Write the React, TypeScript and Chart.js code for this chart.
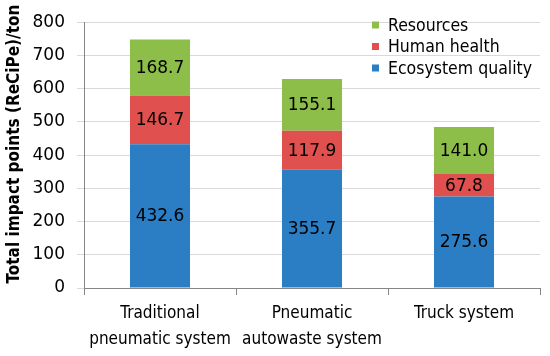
import React, { useEffect, useRef } from "react";
import { Chart, registerables } from "chart.js";

Chart.register(...registerables);

const categories: string[][] = [
  ["Traditional", "pneumatic system"],
  ["Pneumatic", "autowaste system"],
  ["Truck system"],
];
const ecosystemQuality = [432.6, 355.7, 275.6];
const humanHealth = [146.7, 117.9, 67.8];
const resources = [168.7, 155.1, 141.0];
const yTicks = [0, 100, 200, 300, 400, 500, 600, 700, 800];
const yTitle = "Total impact points (ReCiPe)/ton";

const COND = "'DejaVu Sans Condensed', 'DejaVu Sans', sans-serif";
const SANS = "'DejaVu Sans', sans-serif";

const labelPlugin = {
  id: "segLabels",
  afterDatasetsDraw(chart: any) {
    const ctx = chart.ctx;
    ctx.save();
    ctx.font = `17px ${SANS}`;
    ctx.fillStyle = "#000";
    ctx.textAlign = "center";
    ctx.textBaseline = "middle";
    chart.data.datasets.forEach((ds: any, di: number) => {
      const meta = chart.getDatasetMeta(di);
      meta.data.forEach((bar: any, i: number) => {
        const v = ds.data[i];
        const cy = (bar.y + bar.base) / 2;
        ctx.fillText(v.toFixed(1), bar.x, cy + 1);
      });
    });
    ctx.restore();
  },
};

const legendPlugin = {
  id: "innerLegend",
  afterDraw(chart: any) {
    const ctx = chart.ctx;
    const items = [...chart.data.datasets].reverse();
    ctx.save();
    ctx.font = `17.5px ${COND}`;
    ctx.textAlign = "left";
    ctx.textBaseline = "middle";
    const x = 372;
    const y0 = 25;
    const step = 21.5;
    items.forEach((ds: any, i: number) => {
      const y = y0 + i * step;
      ctx.fillStyle = ds.backgroundColor;
      ctx.fillRect(x, y - 3.5, 7, 7);
      ctx.fillStyle = "#000";
      ctx.fillText(ds.label, x + 16, y + 1);
    });
    // y-axis title
    ctx.translate(15, 144);
    ctx.rotate(-Math.PI / 2);
    ctx.font = `bold 17px ${COND}`;
    ctx.textAlign = "center";
    ctx.fillText(yTitle, 0, 0);
    ctx.restore();
  },
};

export default function App() {
  const ref = useRef<HTMLCanvasElement>(null);
  useEffect(() => {
    if (!ref.current) return;
    const chart = new Chart(ref.current, {
      type: "bar",
      data: {
        labels: categories as any,
        datasets: [
          { label: "Ecosystem quality", data: ecosystemQuality, backgroundColor: "#2B7EC4" },
          { label: "Human health", data: humanHealth, backgroundColor: "#E0504E" },
          { label: "Resources", data: resources, backgroundColor: "#8DBE4A" },
        ],
      },
      options: {
        animation: false,
        responsive: false,
        maintainAspectRatio: false,
        layout: { padding: { left: 0, right: 10, top: 13, bottom: 0 } },
        datasets: { bar: { categoryPercentage: 1, barPercentage: 0.395 } },
        plugins: { legend: { display: false }, tooltip: { enabled: false } },
        scales: {
          x: {
            stacked: true,
            grid: { drawOnChartArea: false, drawTicks: true, tickLength: 7, color: "#868686", offset: true },
            border: { color: "#868686" },
            ticks: { color: "#000", font: { family: COND, size: 17, lineHeight: 1.5 }, padding: 6, maxRotation: 0 },
            afterFit: (s: any) => { s.height = 68; },
          },
          y: {
            stacked: true,
            min: 0,
            max: 800,
            afterBuildTicks: (s: any) => { s.ticks = yTicks.map((v) => ({ value: v })); },
            grid: { color: "#D9D9D9", tickLength: 7 },
            border: { color: "#868686" },
            ticks: { color: "#000", font: { family: SANS, size: 17 }, padding: 12 },
            afterFit: (s: any) => { s.width = 84; },
          },
        },
      },
      plugins: [labelPlugin, legendPlugin],
    });
    return () => chart.destroy();
  }, []);
  return (
    <div style={{ position: "absolute", left: 0, top: 0, width: 550, height: 356, background: "#fff" }}>
      <canvas ref={ref} width={550} height={356} style={{ width: 550, height: 356 }} />
    </div>
  );
}
